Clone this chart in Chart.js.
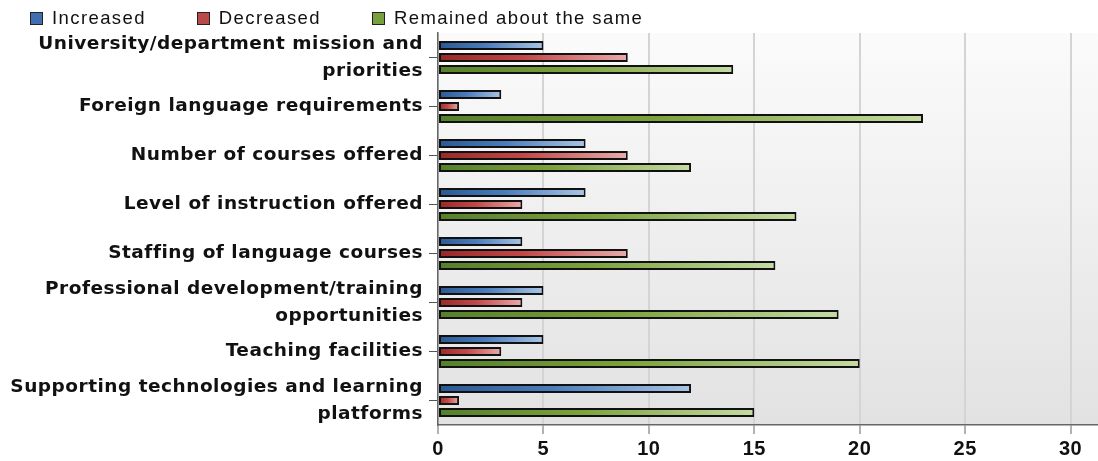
<!DOCTYPE html>
<html>
<head>
<meta charset="utf-8">
<title>Change in program areas</title>
<script src="https://cdn.jsdelivr.net/npm/chart.js@4.4.1/dist/chart.umd.min.js"></script>
<style>
  body { margin: 0; background: #fff; }
  #wrap { position: relative; width: 1098px; height: 461px; }
  #legend {
    position: absolute; left: 30px; top: 7px;
    display: flex; gap: 51px;
    font-family: "Liberation Sans", Arial, sans-serif;
    font-size: 18.5px; letter-spacing: 1.4px; color: #111;
  }
  #legend .item { display: flex; align-items: center; }
  #legend .box {
    width: 11px; height: 11px; border: 1px solid #222;
    margin-right: 9px;
  }
</style>
</head>
<body>
<div id="wrap">
  <canvas id="programChart"></canvas>
  <div id="legend"></div>
</div>
<script>
// --- DATA ---
const categories = [
    ["University/department mission and", "priorities"],
    "Foreign language requirements",
    "Number of courses offered",
    "Level of instruction offered",
    "Staffing of language courses",
    ["Professional development/training", "opportunities"],
    "Teaching facilities",
    ["Supporting technologies and learning", "platforms"]
];
const seriesNames = ["Increased", "Decreased", "Remained about the same"];
const increased = [5, 3, 7, 7, 4, 5, 5, 12];
const decreased = [9, 1, 9, 4, 9, 4, 3, 1];
const remained = [14, 23, 12, 17, 16, 19, 20, 15];
const xTicks = [0, 5, 10, 15, 20, 25, 30];

// --- COLORS (gradient stops along the bar, legend swatch) ---
const palette = [
    { stops: ["#2a5892", "#4a7cbc", "#a9c5e6"], swatch: "#3f6fb0" },
    { stops: ["#972828", "#c24848", "#e9abab"], swatch: "#b94a48" },
    { stops: ["#557f2a", "#7ca23c", "#c5dba3"], swatch: "#78a03e" }
];

const FONT = "'Liberation Sans', Arial, sans-serif";
const LABEL_FONT = "'DejaVu Sans', Verdana, sans-serif";

// horizontal gradient along each bar, from the zero line to the bar end
function barFill(c) {
    return ctx => {
        const chart = ctx.chart;
        const xs = chart.scales.x;
        if (!chart.chartArea || !xs || ctx.raw == null) return c.stops[1];
        const x0 = xs.getPixelForValue(0);
        const x1 = Math.max(xs.getPixelForValue(ctx.raw), x0 + 1);
        const g = chart.ctx.createLinearGradient(x0, 0, x1, 0);
        g.addColorStop(0, c.stops[0]);
        g.addColorStop(0.45, c.stops[1]);
        g.addColorStop(1, c.stops[2]);
        return g;
    };
}

// plot area background: light at the top, grey at the bottom
const plotBackground = {
    id: "plotBackground",
    beforeDraw(chart) {
        const { ctx, chartArea: a } = chart;
        const g = ctx.createLinearGradient(0, a.top, 0, a.bottom);
        g.addColorStop(0, "#fbfbfb");
        g.addColorStop(1, "#e2e2e2");
        ctx.save();
        ctx.fillStyle = g;
        ctx.fillRect(a.left, a.top, a.right - a.left, a.bottom - a.top);
        ctx.restore();
    }
};

// slightly wider text spacing for axis labels
const textSpacing = {
    id: "textSpacing",
    beforeUpdate(chart) { chart.ctx.letterSpacing = "0.5px"; },
    beforeDraw(chart) { chart.ctx.letterSpacing = "0.5px"; }
};

const seriesData = [increased, decreased, remained];

const chart = new Chart(document.getElementById("programChart"), {
    type: "bar",
    data: {
        labels: categories,
        datasets: seriesNames.map((name, i) => ({
            label: name,
            data: seriesData[i],
            backgroundColor: barFill(palette[i]),
            borderColor: "#111",
            borderWidth: 2,
            borderSkipped: false,
            categoryPercentage: 0.735,
            barPercentage: 0.76
        }))
    },
    options: {
        indexAxis: "y",
        responsive: true,
        maintainAspectRatio: false,
        animation: false,
        layout: { padding: { top: 33, right: 0, left: 0, bottom: 0 } },
        plugins: {
            legend: { display: false },
            tooltip: { enabled: false }
        },
        scales: {
            x: {
                min: 0,
                max: 31.3,
                afterFit: s => { s.height = 36; },
                afterBuildTicks: s => { s.ticks = xTicks.map(v => ({ value: v })); },
                grid: {
                    color: "#d4d4d4",
                    lineWidth: 2,
                    tickColor: "#666",
                    tickLength: 9,
                    tickWidth: 1
                },
                border: { display: true, color: "#666", width: 1.5 },
                ticks: {
                    padding: 3,
                    color: "#111",
                    font: { family: FONT, size: 20, weight: "bold" }
                }
            },
            y: {
                afterFit: s => { s.width = 438; },
                grid: {
                    offset: false,
                    drawOnChartArea: false,
                    tickColor: "#555",
                    tickLength: 9
                },
                border: { display: true, color: "#666", width: 1.5 },
                ticks: {
                    autoSkip: false,
                    padding: 6,
                    color: "#111",
                    font: { family: LABEL_FONT, size: 18.5, weight: "bold", lineHeight: 1.45 }
                }
            }
        }
    },
    plugins: [plotBackground, textSpacing]
});

// --- LEGEND ---
const legendEl = document.getElementById("legend");
seriesNames.forEach((name, i) => {
    const item = document.createElement("div");
    item.className = "item";
    item.innerHTML = `<span class="box" style="background:${palette[i].swatch}"></span><span>${name}</span>`;
    legendEl.appendChild(item);
});
</script>
</body>
</html>
